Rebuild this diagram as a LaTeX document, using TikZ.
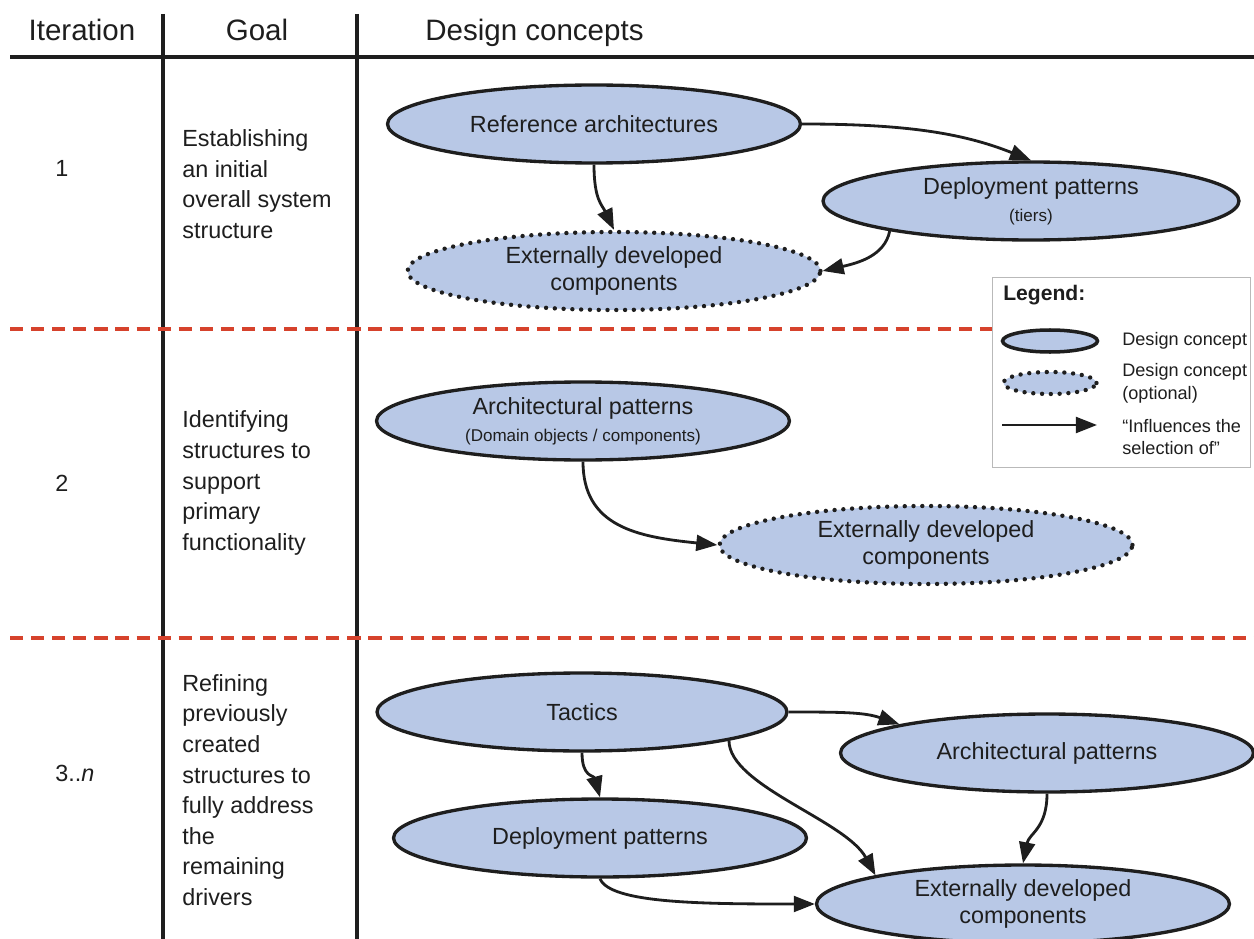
\documentclass[tikz,border=0pt]{standalone}
\usepackage{fontspec}
\setmainfont{Liberation Sans}
\usetikzlibrary{shapes.geometric,arrows.meta}
\definecolor{conceptfill}{RGB}{184,200,230}
\definecolor{rowred}{RGB}{214,66,44}
\definecolor{inkline}{RGB}{30,30,30}
\definecolor{legendgray}{RGB}{185,185,185}
\newcommand{\minor}[1]{{\fontsize{9.7}{11}\selectfont #1}}

\begin{document}
\begin{tikzpicture}[x=0.02cm,y=-0.02cm,
   >={Triangle[length=12pt,width=9pt]},
   concept/.style={ellipse,draw=inkline,line width=1.9pt,fill=conceptfill,
     minimum width=8.26cm,minimum height=1.56cm,inner sep=1pt,align=center,
     text=inkline,font=\fontsize{13.3}{15.5}\selectfont},
   optionalconcept/.style={concept,dash pattern=on 0pt off 5pt,line cap=round,line width=2.5pt},
   influence/.style={->,line width=1.6pt,draw=inkline},
   goal/.style={anchor=west,align=left,inner sep=0pt,text=inkline,font=\fontsize{13.3}{17.4}\selectfont},
   headtext/.style={anchor=base,inner sep=0pt,text=inkline,font=\fontsize{16.8}{20}\selectfont},
   legtext/.style={anchor=west,align=left,inner sep=0pt,text=inkline,font=\fontsize{10.3}{13}\selectfont},
   rowsep/.style={rowred,line width=2pt,dash pattern=on 7.5pt off 4.5pt}]
   \useasboundingbox (0,0) rectangle (1254,939);

   % table frame
   \draw[inkline,line width=1.8pt] (10,57) -- (1254,57);
   \foreach \x in {163,357}
    \draw[inkline,line width=1.8pt] (\x,14) -- (\x,939);
   \draw[rowsep] (10,329) -- (992,329);
   \draw[rowsep] (10,638) -- (1254,638);

   \node[headtext] (hiter) at (82,41) {Iteration};
   \node[headtext] (hgoal) at (257,41) {Goal};
   \node[headtext,anchor=base west] (hdesign) at (425,41) {Design concepts};

   \node[goal] (itone) at (55,168) {1};
   \node[goal] (ittwo) at (55,483) {2};
   \node[goal] (itthree) at (55,773) {3..\textit{n}};

   \node[goal] (goalone) at (182,184) {Establishing\\an initial\\overall system\\structure};
   \node[goal] (goaltwo) at (182,483) {Identifying\\structures to\\support\\primary\\functionality};
   \node[goal] (goalthree) at (182,790) {Refining\\previously\\created\\structures to\\fully address\\the\\remaining\\drivers};

   % iteration 1
   \node[concept] (refarch) at (594,124) {Reference architectures};
   \node[concept,minimum width=8.32cm] (deploytiers) at (1031,201) {Deployment patterns\\\minor{(tiers)}};
   \node[optionalconcept] (extone) at (614,271) {Externally developed\\components};
   \draw[influence] (refarch.east) .. controls +(100,0) and +(-70,-28) .. (deploytiers.north);
   \draw[influence] (refarch.south) .. controls +(0,35) and +(-12,-25) .. (extone.north);
   \draw[influence] (deploytiers.192) .. controls +(-5,25) and +(35,-8) .. (extone.east);

   % iteration 2
   \node[concept] (archdomain) at (583,421) {Architectural patterns\\\minor{(Domain objects / components)}};
   \node[optionalconcept] (exttwo) at (926,545) {Externally developed\\components};
   \draw[influence] (archdomain.south) .. controls +(0,65) and +(-80,-8) .. (exttwo.west);

   % iteration 3..n
   \node[concept,minimum width=8.2cm] (tactics) at (582,712) {Tactics};
   \node[concept] (archthree) at (1047,753) {Architectural patterns};
   \node[concept] (deploythree) at (600,838) {Deployment patterns};
   \node[concept] (extthree) at (1023,904) {Externally developed\\components};
   \draw[influence] (tactics.east) .. controls +(55,0) and +(-35,-12) .. (archthree.169);
   \draw[influence] (tactics.south) .. controls +(0,25) and +(-6,-22) .. (deploythree.north);
   \draw[influence] (tactics.-11) .. controls +(0,45) and +(-30,-55) .. (extthree.169);
   \draw[influence] (archthree.south) .. controls +(0,35) and +(6,-30) .. (extthree.north);
   \draw[influence] (deploythree.south) .. controls +(10,25) and +(-110,0) .. (extthree.west);

   % legend
   \node[draw=legendgray,fill=white,line width=0.8pt,minimum width=5.16cm,minimum height=3.8cm,
     anchor=north west,inner sep=0pt] (legend) at (992,277) {};
   \node[anchor=west,inner sep=0pt,text=inkline,font=\bfseries\fontsize{12}{14}\selectfont] (legendtitle) at (1003,295) {Legend:};
   \node[concept,minimum width=1.9cm,minimum height=0.44cm,line width=2pt] (legsolid) at (1050,341) {};
   \node[optionalconcept,minimum width=1.86cm,minimum height=0.44cm] (legdotted) at (1050,383) {};
   \coordinate (legfrom) at (1002,425);
   \coordinate (legto) at (1097,425);
   \draw[influence] (legfrom) -- (legto);
   \node[legtext] (legsolidtxt) at (1122,341) {Design concept};
   \node[legtext] (legdottedtxt) at (1122,383) {Design concept\\(optional)};
   \node[legtext] (legarrowtxt) at (1122,437) {“Influences the\\selection of”};
\end{tikzpicture}
\end{document}
